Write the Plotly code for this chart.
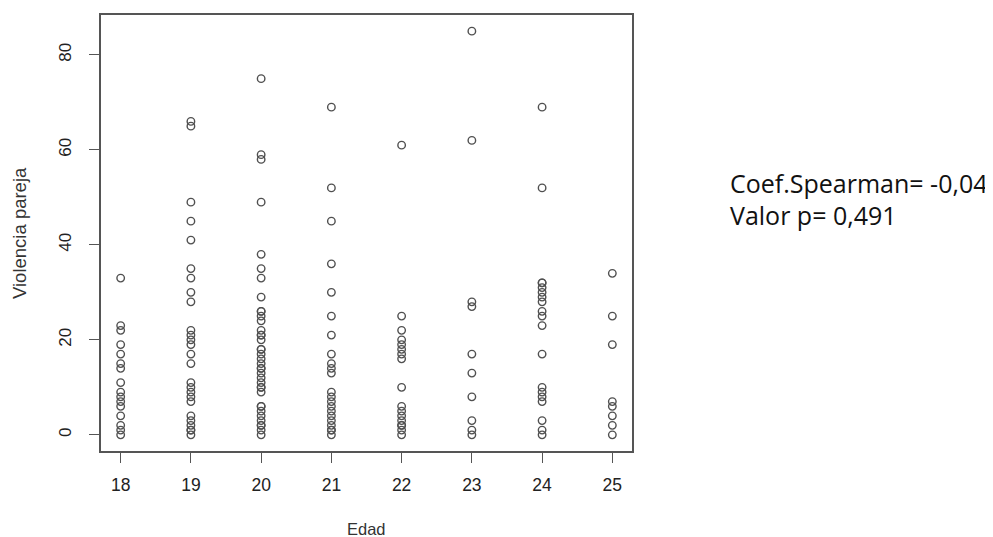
import plotly.graph_objects as go

edades = [18, 19, 20, 21, 22, 23, 24, 25]

v18 = [0, 1, 2, 4, 6, 7, 8, 9, 11, 14, 15, 17, 19, 22, 23, 33]
v19 = [0, 1, 1, 2, 3, 4, 7, 8, 9, 10, 11, 15, 17, 19, 20, 21, 22, 28, 30, 33, 35, 41, 45, 49, 65, 66]
v20 = [0, 1, 2, 2, 3, 4, 5, 6, 6, 9, 10, 10, 11, 12, 13, 14, 14, 15, 16, 17, 18, 18,
       20, 21, 21, 22, 24, 25, 26, 26, 29, 33, 35, 38, 49, 58, 59, 75]
v21 = [0, 1, 1, 2, 3, 4, 5, 6, 7, 8, 9, 13, 14, 15, 17, 21, 25, 30, 36, 45, 52, 69]
v22 = [0, 1, 2, 2, 3, 4, 5, 6, 10, 16, 17, 18, 19, 20, 22, 25, 61]
v23 = [0, 1, 3, 8, 13, 17, 27, 28, 62, 85]
v24 = [0, 1, 3, 7, 8, 9, 10, 17, 23, 25, 26, 28, 29, 30, 31, 32, 32, 52, 69]
v25 = [0, 2, 4, 6, 7, 19, 25, 34]

valores = [v18, v19, v20, v21, v22, v23, v24, v25]

x_ticks = [18, 19, 20, 21, 22, 23, 24, 25]
y_ticks = [0, 20, 40, 60, 80]

texto1 = "Coef.Spearman= -0,04"
texto2 = "Valor p= 0,491"

xs, ys = [], []
for e, vals in zip(edades, valores):
    for v in vals:
        xs.append(e)
        ys.append(v)

fig = go.Figure()
fig.add_trace(go.Scatter(
    x=xs, y=ys, mode="markers",
    marker=dict(symbol="circle-open", size=7.5, color="#505050",
                line=dict(width=1.4, color="#505050")),
    showlegend=False,
))

sans = "Liberation Sans, Arial, sans-serif"

fig.update_layout(
    width=985, height=529,
    margin=dict(l=93, r=361, t=5, b=86),
    paper_bgcolor="white", plot_bgcolor="white",
    xaxis=dict(
        range=[17.72, 25.28], tickvals=x_ticks, ticktext=[str(t) for t in x_ticks],
        showgrid=False, zeroline=False, showline=True, mirror=True,
        linecolor="#555555", linewidth=1.5,
        ticks="outside", ticklen=10, tickwidth=1.3, tickcolor="#555555",
        tickfont=dict(family=sans, size=17.5, color="#222222"), ticklabelstandoff=7,
    ),
    yaxis=dict(
        range=[-3.4, 88.4], tickvals=y_ticks, ticktext=[str(t) for t in y_ticks],
        showgrid=False, zeroline=False, showline=True, mirror=True,
        linecolor="#555555", linewidth=1.5,
        ticks="outside", ticklen=10, tickwidth=1.3, tickcolor="#555555",
        tickfont=dict(family=sans, size=17, color="#222222"), tickangle=-90, ticklabelstandoff=11,
    ),
    annotations=[
        dict(text="Violencia pareja", x=0, y=0.5, xref="paper", yref="paper",
             xanchor="center", yanchor="middle", xshift=-82, textangle=-90, showarrow=False,
             font=dict(family=sans, size=18.5, color="#333333")),
        dict(text="Edad", x=0.5, y=0, xref="paper", yref="paper",
             xanchor="center", yanchor="middle", yshift=-78, showarrow=False,
             font=dict(family=sans, size=16.5, color="#333333")),
        dict(text=texto1, x=1, y=(443 - 174) / 438, xref="paper", yref="paper",
             xanchor="left", yanchor="middle", xshift=96, showarrow=False,
             font=dict(family="Open Sans, sans-serif", size=25, color="#111111")),
        dict(text=texto2, x=1, y=(443 - 205.5) / 438, xref="paper", yref="paper",
             xanchor="left", yanchor="middle", xshift=96, showarrow=False,
             font=dict(family="Open Sans, sans-serif", size=25, color="#111111")),
    ],
)

fig.write_html("out.html")
